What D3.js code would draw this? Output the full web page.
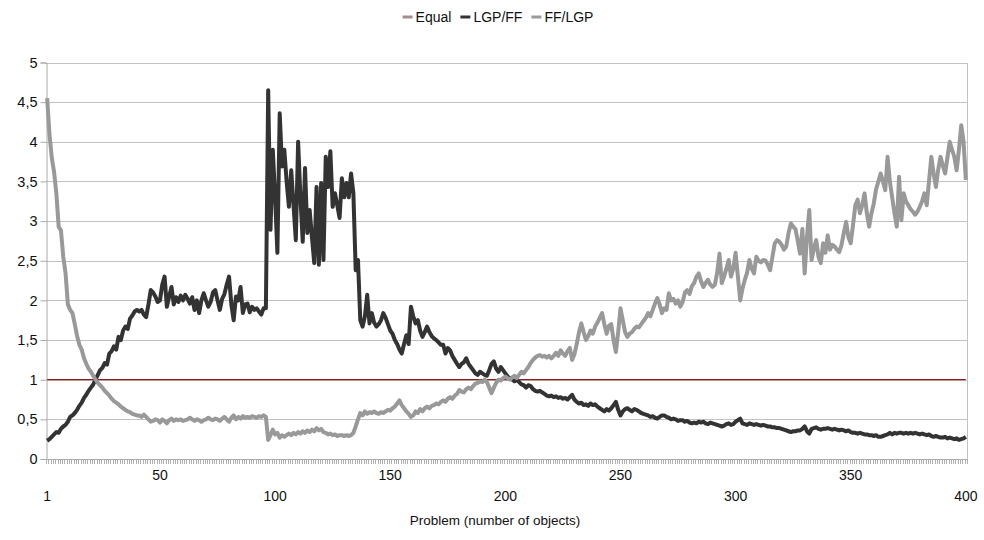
<!DOCTYPE html>
<html>
<head>
<meta charset="utf-8">
<script src="https://cdn.jsdelivr.net/npm/d3@7"></script>
<style>
  html, body { margin: 0; padding: 0; background: #fff; }
  svg { display: block; font-family: "Liberation Sans", Arial, Helvetica, sans-serif; }
</style>
</head>
<body>
<svg id="chart" width="984" height="540"></svg>
<script>
// ---- data ----
const categories = d3.range(1, 401);
const xTickLabels = [1, 50, 100, 150, 200, 250, 300, 350, 400];
const yTicks = [0, 0.5, 1, 1.5, 2, 2.5, 3, 3.5, 4, 4.5, 5];
const equalValue = 1;
const seriesNames = ["Equal", "LGP/FF", "FF/LGP"];

const lgpff = [
0.23,0.25,0.28,0.31,0.34,0.33,0.38,0.41,0.43,0.47,0.53,0.55,0.58,0.62,0.67,0.71,0.77,0.81,0.86,0.90,
0.94,1.00,1.06,1.12,1.15,1.21,1.19,1.33,1.36,1.42,1.38,1.54,1.50,1.62,1.67,1.64,1.77,1.81,1.86,1.88,
1.86,1.88,1.82,1.79,1.95,2.13,2.10,2.05,1.98,2.00,2.20,2.30,1.92,2.05,2.17,1.95,2.04,1.98,2.06,2.00,
2.07,2.02,1.96,2.04,1.88,2.00,1.84,2.00,2.09,2.00,1.92,1.98,2.10,2.13,2.00,1.88,2.02,2.08,2.20,2.30,
1.95,1.75,2.05,2.00,2.17,1.84,1.95,1.96,1.85,1.92,1.88,1.90,1.86,1.82,1.90,1.90,4.65,2.89,3.90,3.30,
2.60,4.36,3.69,3.90,3.50,3.18,3.64,3.20,2.76,4.00,3.30,2.74,3.67,2.85,3.14,2.80,2.47,3.43,2.45,3.48,
2.51,3.81,3.43,3.88,3.18,3.35,3.20,3.04,3.54,3.30,3.48,3.30,3.60,3.35,2.38,2.51,1.75,1.67,1.80,2.07,
1.71,1.84,1.72,1.67,1.70,1.75,1.84,1.78,1.70,1.62,1.58,1.50,1.45,1.38,1.33,1.45,1.56,1.45,1.92,1.80,
1.71,1.75,1.62,1.54,1.60,1.67,1.60,1.55,1.52,1.50,1.47,1.44,1.44,1.33,1.40,1.37,1.30,1.25,1.20,1.16,
1.20,1.22,1.27,1.20,1.16,1.12,1.08,1.06,1.10,1.08,1.06,1.05,1.12,1.20,1.23,1.14,1.10,1.16,1.12,1.08,
1.04,1.02,1.00,0.98,1.00,0.97,0.94,0.93,0.90,0.93,0.92,0.88,0.86,0.85,0.86,0.84,0.82,0.80,0.79,0.80,
0.78,0.79,0.77,0.78,0.76,0.77,0.75,0.78,0.81,0.75,0.72,0.70,0.71,0.68,0.69,0.67,0.70,0.68,0.69,0.66,
0.64,0.62,0.60,0.63,0.61,0.64,0.68,0.72,0.62,0.55,0.60,0.63,0.64,0.62,0.60,0.63,0.62,0.60,0.58,0.57,
0.56,0.55,0.53,0.54,0.52,0.51,0.53,0.55,0.55,0.53,0.52,0.50,0.51,0.50,0.48,0.49,0.49,0.47,0.48,0.46,
0.45,0.46,0.45,0.47,0.46,0.47,0.45,0.44,0.46,0.45,0.44,0.43,0.42,0.41,0.42,0.44,0.45,0.43,0.44,0.47,
0.49,0.51,0.45,0.44,0.43,0.45,0.44,0.43,0.44,0.43,0.42,0.43,0.42,0.41,0.41,0.40,0.40,0.39,0.39,0.38,
0.37,0.36,0.35,0.34,0.35,0.35,0.36,0.36,0.38,0.41,0.35,0.32,0.38,0.39,0.40,0.38,0.37,0.38,0.38,0.39,
0.38,0.37,0.38,0.37,0.36,0.37,0.36,0.35,0.36,0.34,0.33,0.33,0.32,0.33,0.32,0.31,0.31,0.30,0.30,0.29,
0.30,0.28,0.28,0.29,0.30,0.31,0.33,0.31,0.33,0.32,0.33,0.33,0.32,0.33,0.32,0.33,0.32,0.33,0.32,0.31,
0.32,0.31,0.30,0.31,0.29,0.28,0.29,0.28,0.27,0.27,0.28,0.26,0.27,0.26,0.25,0.26,0.24,0.25,0.26,0.28
];

const fflgp = [
4.55,4.10,3.80,3.62,3.35,2.93,2.88,2.55,2.34,1.95,1.88,1.84,1.70,1.55,1.44,1.38,1.27,1.20,1.14,1.10,
1.05,1.00,0.96,0.93,0.90,0.86,0.83,0.80,0.76,0.73,0.71,0.69,0.66,0.64,0.62,0.60,0.59,0.57,0.56,0.55,
0.55,0.53,0.56,0.53,0.50,0.47,0.48,0.50,0.49,0.46,0.50,0.48,0.45,0.49,0.51,0.48,0.50,0.49,0.50,0.48,
0.49,0.50,0.52,0.50,0.48,0.50,0.49,0.47,0.49,0.50,0.52,0.50,0.49,0.51,0.50,0.48,0.51,0.53,0.50,0.47,
0.52,0.55,0.50,0.53,0.51,0.54,0.52,0.53,0.52,0.54,0.53,0.52,0.54,0.53,0.55,0.53,0.24,0.30,0.37,0.31,
0.33,0.27,0.30,0.28,0.30,0.32,0.30,0.33,0.31,0.34,0.32,0.35,0.33,0.36,0.34,0.37,0.35,0.39,0.36,0.38,
0.34,0.33,0.31,0.32,0.30,0.31,0.29,0.30,0.30,0.29,0.30,0.29,0.30,0.33,0.41,0.50,0.58,0.55,0.60,0.57,
0.59,0.58,0.60,0.58,0.57,0.59,0.58,0.60,0.62,0.61,0.64,0.66,0.70,0.74,0.68,0.64,0.60,0.57,0.53,0.55,
0.60,0.58,0.63,0.60,0.64,0.66,0.64,0.67,0.68,0.70,0.69,0.72,0.74,0.72,0.76,0.78,0.76,0.80,0.82,0.87,
0.85,0.84,0.88,0.90,0.88,0.92,0.95,0.96,0.98,0.97,1.00,0.97,0.90,0.83,0.90,0.96,1.00,0.99,1.02,1.04,
1.02,1.00,1.03,1.05,1.02,1.06,1.10,1.08,1.12,1.16,1.21,1.25,1.28,1.30,1.31,1.29,1.30,1.28,1.30,1.27,
1.30,1.34,1.30,1.37,1.33,1.30,1.36,1.40,1.25,1.32,1.45,1.60,1.71,1.60,1.50,1.55,1.62,1.58,1.67,1.72,
1.78,1.84,1.70,1.58,1.68,1.70,1.50,1.35,1.60,1.90,1.75,1.60,1.54,1.58,1.60,1.64,1.67,1.66,1.70,1.74,
1.78,1.84,1.80,1.88,1.96,2.03,1.95,1.84,1.90,1.88,2.09,2.00,2.02,1.96,2.00,1.92,1.98,2.10,2.13,2.08,
2.18,2.22,2.30,2.34,2.24,2.17,2.22,2.26,2.20,2.17,2.20,2.35,2.59,2.22,2.30,2.40,2.51,2.30,2.40,2.60,
2.30,2.00,2.15,2.26,2.35,2.51,2.40,2.34,2.55,2.50,2.48,2.51,2.50,2.45,2.38,2.55,2.72,2.76,2.74,2.70,
2.64,2.68,2.85,2.97,2.93,2.90,2.75,2.59,2.90,2.34,2.80,3.14,2.51,2.65,2.76,2.55,2.47,2.72,2.60,2.82,
2.64,2.70,2.68,2.64,2.61,2.70,2.85,2.99,2.80,2.72,2.95,3.20,3.27,3.10,3.20,3.35,3.10,2.93,3.10,3.22,
3.40,3.50,3.60,3.50,3.39,3.81,3.50,3.30,3.10,2.93,3.56,3.01,3.35,3.25,3.20,3.15,3.12,3.08,3.12,3.18,
3.25,3.35,3.20,3.50,3.81,3.60,3.43,3.65,3.81,3.70,3.60,3.80,4.00,3.90,3.81,3.64,3.90,4.21,4.00,3.52
];

// ---- layout ----
const svg = d3.select("#chart");
const plotLeft = 46, plotRight = 967, plotTop = 62.5, plotBottom = 459;
const colEqual = "#8e1c1c", colDark = "#333333", colGrey = "#999999", colGrid = "#c2c2c2";

const x = d3.scaleBand().domain(categories).range([plotLeft, plotRight]).padding(0);
const y = d3.scaleLinear().domain([0, 5]).range([plotBottom, plotTop]);
const cx = d => x(d) + x.bandwidth() / 2;

svg.append("rect").attr("width", 984).attr("height", 540).attr("fill", "#fff");

// gridlines
svg.append("g").selectAll("line").data(yTicks.filter(v => v > 0)).join("line")
  .attr("x1", plotLeft).attr("x2", plotRight)
  .attr("y1", d => Math.round(y(d)) + 0.5).attr("y2", d => Math.round(y(d)) + 0.5)
  .attr("stroke", colGrid).attr("stroke-width", 1);

// right border
svg.append("line").attr("x1", plotRight + 0.5).attr("x2", plotRight + 0.5)
  .attr("y1", Math.round(y(5))).attr("y2", plotBottom).attr("stroke", colGrid);

// y axis
const yAxis = d3.axisLeft(y).tickValues(yTicks).tickSize(6).tickPadding(3)
  .tickFormat(d => String(d).replace(".", ","));
const gy = svg.append("g").attr("transform", `translate(${plotLeft + 0.5},0)`).call(yAxis);
gy.select(".domain").attr("stroke", "#aaa");
gy.selectAll(".tick line").attr("stroke", "#aaa");
gy.selectAll(".tick text").attr("font-size", 14.5).attr("fill", "#111")
  .attr("font-family", "Liberation Sans, Arial, sans-serif");

// x axis baseline & minor ticks
svg.append("line").attr("x1", plotLeft).attr("x2", plotRight + 1)
  .attr("y1", plotBottom + 0.5).attr("y2", plotBottom + 0.5).attr("stroke", "#aaa");
svg.append("g").selectAll("line").data(categories.concat([401])).join("line")
  .attr("x1", d => d <= 400 ? Math.round(x(d)) + 0.5 : plotRight + 0.5)
  .attr("x2", d => d <= 400 ? Math.round(x(d)) + 0.5 : plotRight + 0.5)
  .attr("y1", plotBottom).attr("y2", plotBottom + 5)
  .attr("stroke", "#b0b0b0").attr("stroke-width", 1);

// x tick labels (staggered rows)
svg.append("g").selectAll("text").data(xTickLabels).join("text")
  .attr("x", d => cx(d))
  .attr("y", (d, i) => i % 2 === 0 ? 501 : 480)
  .attr("text-anchor", "middle").attr("font-size", 14).attr("fill", "#111")
  .text(d => d);

// axis title
svg.append("text").attr("x", 495).attr("y", 525).attr("text-anchor", "middle")
  .attr("font-size", 13.5).attr("fill", "#111").text("Problem (number of objects)");

// lines
const line = d3.line().x((d, i) => cx(categories[i])).y(d => y(d));
svg.append("path").datum(categories.map(() => equalValue)).attr("d", line)
  .attr("fill", "none").attr("stroke", colEqual).attr("stroke-width", 1.2);
svg.append("path").datum(lgpff).attr("d", line)
  .attr("fill", "none").attr("stroke", colDark).attr("stroke-width", 4)
  .attr("stroke-linejoin", "round");
svg.append("path").datum(fflgp).attr("d", line)
  .attr("fill", "none").attr("stroke", colGrey).attr("stroke-width", 4)
  .attr("stroke-linejoin", "round");

// legend
const legendColors = ["#a78a8a", colDark, colGrey];
const lg = svg.append("g");
let lx = 0;
seriesNames.forEach((name, i) => {
  const g = lg.append("g").attr("transform", `translate(${lx},0)`);
  g.append("line").attr("x1", 0).attr("x2", 10).attr("y1", 17).attr("y2", 17)
    .attr("stroke", legendColors[i]).attr("stroke-width", 3);
  const t = g.append("text").attr("x", 13).attr("y", 22).attr("font-size", 14)
    .attr("fill", "#111").text(name);
  lx += 13 + t.node().getComputedTextLength() + 9;
});
const lw = lx - 9;
lg.attr("transform", `translate(${498 - lw / 2},0)`);
</script>
</body>
</html>
